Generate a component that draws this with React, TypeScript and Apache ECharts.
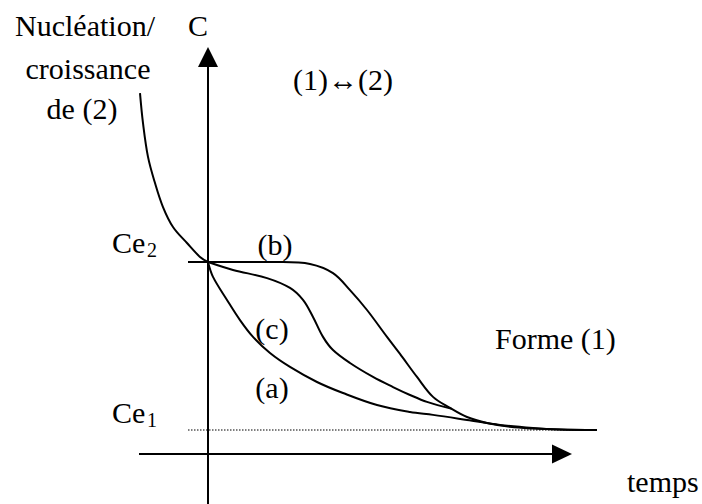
import React, { useEffect, useRef } from "react";
import * as echarts from "echarts";

const FONT_FAMILY = "Liberation Serif";

// Axes ranges (arbitrary units): time t, concentration C
const timeRange: [number, number] = [-3.45, 19.7];
const concRange: [number, number] = [-2.0833, 16.5417];
const timeAxisEnd = 17.7; // end of the drawn time arrow
const ce1 = 1;
const ce2 = 8;

// Curve (a): direct decay from Ce2 to Ce1
const curveA: [number, number][] = [
  [0, 8.0], [0.25, 7.38], [0.95, 6.42], [1.6, 5.58], [2.25, 4.88], [3.1, 4.21],
  [4.1, 3.63], [5.45, 3.0], [6.75, 2.54], [8.45, 2.04], [10.1, 1.75], [11.25, 1.63],
  [12.95, 1.42], [14.6, 1.21], [16.25, 1.08], [17.6, 1.02], [19.45, 1.0],
];

// Curve (b): plateau at Ce2 then sigmoid drop
const curveB: [number, number][] = [
  [-1.0, 8.0], [0, 8.0], [2.1, 8.0], [3.75, 8.0], [5.1, 7.92], [6.25, 7.54],
  [7.1, 6.83], [7.95, 6.0], [8.95, 4.88], [9.6, 4.17], [10.45, 3.21], [11.25, 2.38],
  [12.1, 1.92], [12.95, 1.54], [13.95, 1.29], [15.1, 1.13], [16.25, 1.06],
  [17.6, 1.02], [19.45, 1.0],
];

// Curve (c): intermediate, joins (b)
const curveC: [number, number][] = [
  [0, 8.0], [1.25, 7.67], [2.95, 7.33], [4.1, 6.92], [4.75, 6.42], [5.25, 5.71],
  [5.75, 4.88], [6.25, 4.33], [7.1, 3.79], [8.25, 3.21], [9.25, 2.79], [10.1, 2.46],
  [10.95, 2.17], [12.2, 1.88],
];

// Nucleation / growth of (2) curve, coming down to Ce2
const nucleation: [number, number][] = [
  [-3.4, 15.04], [-3.25, 13.79], [-3.0, 12.38], [-2.65, 11.29], [-2.25, 10.29],
  [-1.75, 9.46], [-1.05, 8.79], [-0.4, 8.21], [0, 8.0],
];

// Ce1 dotted level
const ce1Line: [number, number][] = [
  [-1.0, ce1], [19.45, ce1],
];

const blackLine = { color: "#000", width: 2 };

export default function App() {
  const ref = useRef<HTMLDivElement>(null);

  useEffect(() => {
    if (!ref.current) return;
    const chart = echarts.init(ref.current, undefined, { renderer: "svg" });

    const label = (
      text: string,
      x: number,
      y: number,
      align: string = "center",
      size: number = 30
    ) => ({
      text,
      left: x,
      top: y,
      padding: 0,
      itemGap: 0,
      textAlign: align,
      textVerticalAlign: "middle",
      textStyle: {
        fontFamily: FONT_FAMILY,
        fontSize: size,
        fontWeight: "normal",
        color: "#000",
      },
    });

    const lineSeries = (name: string, data: any[], extra: any = {}) => ({
      name,
      type: "line",
      data,
      symbol: "none",
      showSymbol: false,
      clip: false,
      smooth: 0.35,
      lineStyle: { ...blackLine },
      silent: true,
      ...extra,
    });

    chart.setOption({
      animation: false,
      backgroundColor: "#fff",
      title: [
        label("Nucléation/", 85, 25),
        label("croissance", 88, 68),
        label("de (2)", 82, 108),
        label("C", 198, 25),
        label("(1)↔(2)", 343, 79),
        label("(b)", 275, 244),
        label("(c)", 272, 328),
        label("(a)", 272, 387),
        label("Forme (1)", 495, 338, "left"),
        label("temps", 627, 481, "left"),
        label("Ce", 112, 242, "left"),
        label(String(2), 147, 250, "left", 20),
        label("Ce", 112, 412, "left"),
        label(String(1), 147, 420, "left", 20),
      ],
      grid: { left: 139, right: 100, top: 57, bottom: 0, containLabel: false },
      xAxis: {
        type: "value",
        min: timeRange[0],
        max: timeRange[1],
        axisLine: { show: false, onZero: true },
        axisTick: { show: false },
        axisLabel: { show: false },
        splitLine: { show: false },
      },
      yAxis: {
        type: "value",
        min: concRange[0],
        max: concRange[1],
        axisLine: {
          show: true,
          onZero: true,
          symbol: ["none", "triangle"],
          symbolSize: [20, 20],
          lineStyle: { color: "#000", width: 2 },
        },
        axisTick: { show: false },
        axisLabel: { show: false },
        splitLine: { show: false },
      },
      series: [
        {
          name: "time axis",
          type: "line",
          silent: true,
          clip: false,
          showSymbol: true,
          lineStyle: { color: "#000", width: 2 },
          itemStyle: { color: "#000" },
          data: [
            { value: [timeRange[0], 0], symbol: "none" },
            {
              value: [timeAxisEnd, 0],
              symbol: "triangle",
              symbolSize: [19, 20],
              symbolRotate: -90,
            },
          ],
        },
        lineSeries("nucleation", nucleation),
        lineSeries("b", curveB),
        lineSeries("c", curveC),
        lineSeries("a", curveA),
        lineSeries("Ce1", ce1Line, {
          smooth: false,
          lineStyle: { color: "#000", width: 1.2, type: [1.5, 1.5] },
        }),
      ],
    });

    return () => {
      chart.dispose();
    };
  }, []);

  return (
    <div
      ref={ref}
      style={{
        position: "absolute",
        left: 0,
        top: 0,
        width: 702,
        height: 504,
        background: "#fff",
      }}
    />
  );
}
